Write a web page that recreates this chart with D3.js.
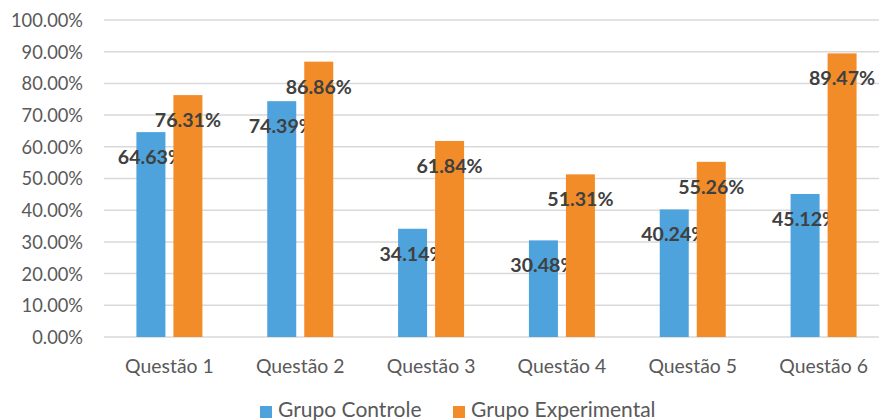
<!DOCTYPE html>
<html><head><meta charset="utf-8">
<script src="https://cdn.jsdelivr.net/npm/d3@7"></script>
<style>body{margin:0;background:#fff}svg{display:block}</style>
</head><body><svg id="c" width="879" height="420"></svg>
<script>
const categories = ["Questão 1","Questão 2","Questão 3","Questão 4","Questão 5","Questão 6"];
const controle = [64.63, 74.39, 34.14, 30.48, 40.24, 45.12];
const experimental = [76.31, 86.86, 61.84, 51.31, 55.26, 89.47];
const seriesNames = ["Grupo Controle","Grupo Experimental"];
const colors = ["#4EA3DC","#F28C28"];
const yTicks = [0,10,20,30,40,50,60,70,80,90,100];

const svg = d3.select("#c");
const font = "Lato, sans-serif";
const x0 = d3.scaleBand().domain(categories).range([104, 889]).paddingInner(0).paddingOuter(0);
const y = d3.scaleLinear().domain([0,100]).range([337, 20]);
const bw = 29, gap = 8;

svg.append("g").selectAll("line").data(yTicks).join("line")
  .attr("x1",104).attr("x2",879).attr("y1",d=>y(d)).attr("y2",d=>y(d))
  .attr("stroke","#d9d9d9").attr("stroke-width",1.5);

const yAxis = d3.axisLeft(y).tickValues(yTicks).tickSize(0).tickPadding(0)
  .tickFormat(d=>d.toFixed(2)+"%");
const ga = svg.append("g").attr("transform","translate(83,0)").call(yAxis);
ga.select(".domain").remove();
ga.selectAll("text").attr("font-family",font).attr("font-size",18.3).attr("fill","#595959").attr("dy","0.35em");

const xAxis = d3.axisBottom(x0).tickSize(0).tickPadding(0);
const gx = svg.append("g").attr("transform","translate(0,366)").call(xAxis);
gx.select(".domain").remove();
gx.selectAll("text").attr("font-family",font).attr("font-size",19.4).attr("fill","#595959").attr("dy","0.35em");

const data = [controle, experimental];
data.forEach((vals,si)=>{
  const g = svg.append("g");
  const xpos = c => x0(c) + x0.bandwidth()/2 + (si===0 ? -(gap/2+bw) : gap/2);
  g.selectAll("rect").data(vals).join("rect")
    .attr("x",(d,i)=>xpos(categories[i]))
    .attr("y",d=>y(d)).attr("width",bw).attr("height",d=>y(0)-y(d))
    .attr("fill",colors[si]);
  g.selectAll("text").data(vals).join("text")
    .attr("x",(d,i)=>xpos(categories[i])+bw/2)
    .attr("y",d=>y(d)+25).attr("dy","0.35em")
    .attr("text-anchor","middle")
    .attr("font-family",font).attr("font-weight","bold").attr("font-size",19.6)
    .attr("fill","#404040")
    .text(d=>d.toFixed(2)+"%");
});

const legX = [260, 453];
seriesNames.forEach((n,i)=>{
  svg.append("rect").attr("x",legX[i]).attr("y",406).attr("width",12).attr("height",12).attr("fill",colors[i]);
  svg.append("text").attr("x",legX[i]+18).attr("y",410).attr("dy","0.35em")
    .attr("font-family",font).attr("font-size",21).attr("fill","#595959").text(n);
});
</script></body></html>
